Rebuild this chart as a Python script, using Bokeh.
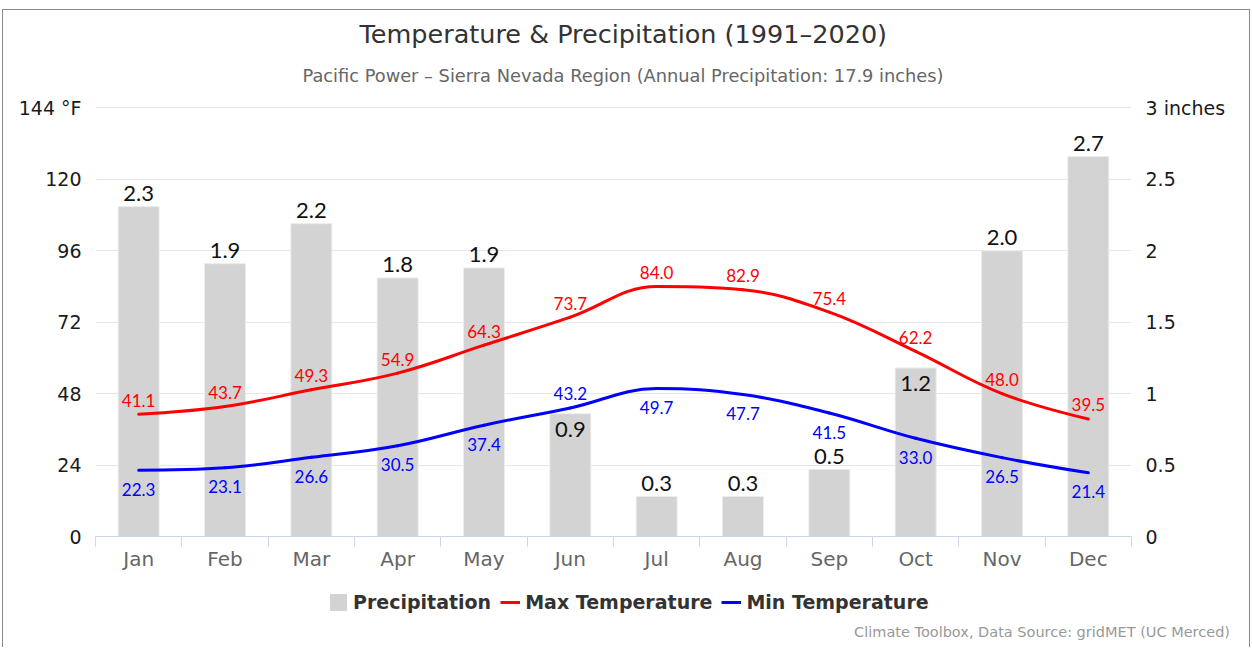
from bokeh.plotting import figure
from bokeh.layouts import column
from bokeh.models import (Range1d, LinearAxis, FixedTicker, Legend, LegendItem, Title, Grid,
                          Div, ColumnDataSource)
from bokeh.core.properties import value
from bokeh.embed import file_html
from bokeh.resources import INLINE

# ---------------- data ----------------
months = ["Jan", "Feb", "Mar", "Apr", "May", "Jun", "Jul", "Aug", "Sep", "Oct", "Nov", "Dec"]
precip = [2.31, 1.91, 2.19, 1.81, 1.88, 0.86, 0.28, 0.28, 0.47, 1.18, 2.00, 2.66]
max_temp = [41.1, 43.7, 49.3, 54.9, 64.3, 73.7, 84.0, 82.9, 75.4, 62.2, 48.0, 39.5]
min_temp = [22.3, 23.1, 26.6, 30.5, 37.4, 43.2, 49.7, 47.7, 41.5, 33.0, 26.5, 21.4]
temp_ticks = [0, 24, 48, 72, 96, 120, 144]
precip_ticks = [0, 0.5, 1, 1.5, 2, 2.5, 3]
series_names = ["Precipitation", "Max Temperature", "Min Temperature"]
title_text = "Temperature & Precipitation (1991\u20132020)"
subtitle_text = "Pacific Power \u2013 Sierra Nevada Region (Annual Precipitation: 17.9 inches)"
credit_text = "Climate Toolbox, Data Source: gridMET (UC Merced)"

# label placement (style)
bar_label_place = ["above"] * 5 + ["inside"] + ["above"] * 3 + ["inside"] + ["above"] * 2
min_label_place = ["below"] * 5 + ["above"] + ["below"] * 6

FONT = "DejaVu Sans"
LABEL_FONT = "Lato"
BAR_COLOR = "#d3d3d3"
MAX_COLOR = "#ff0000"
MIN_COLOR = "#0000ff"

xs = list(range(1, len(months) + 1))
T_END = 144.5
P_END = 3 * T_END / 144
W = 1246

p = figure(width=W, height=570, output_backend="svg", toolbar_location=None,
           x_range=Range1d(0.5, 12.5), y_range=Range1d(0, T_END),
           min_border_left=92, min_border_right=118, min_border_top=96, min_border_bottom=44,
           x_axis_type=None, y_axis_type=None, title_location=None)
p.outline_line_color = None
p.background_fill_color = "white"
p.border_fill_color = "white"
p.extra_y_ranges = {"precip": Range1d(0, P_END)}

# axes
xaxis = LinearAxis(ticker=FixedTicker(ticks=xs, minor_ticks=[x - 0.5 for x in xs] + [12.5]))
xaxis.major_label_overrides = {x: m for x, m in zip(xs, months)}
xaxis.major_tick_line_color = None
xaxis.major_tick_out = 0
xaxis.major_tick_in = 0
xaxis.minor_tick_line_color = "#ccd6eb"
xaxis.minor_tick_out = 10
xaxis.minor_tick_in = 0
xaxis.axis_line_color = "#ccd6eb"
xaxis.major_label_text_font = FONT
xaxis.major_label_text_font_size = "20px"
xaxis.major_label_text_color = "#666666"
xaxis.major_label_standoff = 0
p.add_layout(xaxis, "below")

yaxis = LinearAxis(ticker=FixedTicker(ticks=temp_ticks))
yaxis.major_label_overrides = {temp_ticks[-1]: f"{temp_ticks[-1]} \u00b0F"}
yaxis.axis_line_color = None
yaxis.major_tick_line_color = None
yaxis.minor_tick_line_color = None
yaxis.major_tick_out = 0
yaxis.major_tick_in = 0
yaxis.major_label_standoff = 14
yaxis.major_label_text_font = FONT
yaxis.major_label_text_font_size = "19px"
yaxis.major_label_text_color = "#1a1a1a"
p.add_layout(yaxis, "left")

raxis = LinearAxis(y_range_name="precip", ticker=FixedTicker(ticks=precip_ticks))
ov = {t: f"{t:g}" for t in precip_ticks}
ov[precip_ticks[-1]] = f"{precip_ticks[-1]:g} inches"
raxis.major_label_overrides = ov
raxis.axis_line_color = None
raxis.major_tick_line_color = None
raxis.minor_tick_line_color = None
raxis.major_tick_out = 0
raxis.major_tick_in = 0
raxis.major_label_standoff = 14
raxis.major_label_text_font = FONT
raxis.major_label_text_font_size = "19px"
raxis.major_label_text_color = "#1a1a1a"
p.add_layout(raxis, "right")

p.add_layout(Grid(dimension=1, ticker=FixedTicker(ticks=temp_ticks), grid_line_color="#e6e6e6",
                  grid_line_width=1))

# bars
bar_src = ColumnDataSource(dict(
    x=xs, top=precip,
    label=[f"{v:.1f}" for v in precip],
    yoff=[-13 if pl == "above" else 16 for pl in bar_label_place],
))
p.vbar(x="x", top="top", width=0.475, source=bar_src, y_range_name="precip",
       fill_color=BAR_COLOR, line_color="#ececec", line_width=1)
p.text(x="x", y="top", text="label", y_offset="yoff", source=bar_src, y_range_name="precip",
       text_align="center", text_baseline="middle", text_font=value(LABEL_FONT),
       text_font_size="22px", text_color="#111111")


# Highcharts-style spline through data points
def spline(xv, yv, smoothing=1.5):
    n = len(xv)
    denom = smoothing + 1
    left = [None] * n
    right = [None] * n
    for i in range(n):
        px, py = xv[i], yv[i]
        if 0 < i < n - 1:
            lx, ly = xv[i - 1], yv[i - 1]
            nx, ny = xv[i + 1], yv[i + 1]
            lcx = (smoothing * px + lx) / denom
            lcy = (smoothing * py + ly) / denom
            rcx = (smoothing * px + nx) / denom
            rcy = (smoothing * py + ny) / denom
            if rcx != lcx:
                corr = ((rcy - lcy) * (rcx - px)) / (rcx - lcx) + py - rcy
                lcy += corr
                rcy += corr
            if lcy > ly and lcy > py:
                lcy = max(ly, py)
                rcy = 2 * py - lcy
            elif lcy < ly and lcy < py:
                lcy = min(ly, py)
                rcy = 2 * py - lcy
            if rcy > ny and rcy > py:
                rcy = max(py, ny)
                lcy = 2 * py - rcy
            elif rcy < ny and rcy < py:
                rcy = min(py, ny)
                lcy = 2 * py - rcy
            left[i] = (lcx, lcy)
            right[i] = (rcx, rcy)
        else:
            left[i] = right[i] = (px, py)
    d = dict(x0=[], y0=[], x1=[], y1=[], cx0=[], cy0=[], cx1=[], cy1=[])
    for i in range(1, n):
        d["x0"].append(xv[i - 1]); d["y0"].append(yv[i - 1])
        d["x1"].append(xv[i]); d["y1"].append(yv[i])
        d["cx0"].append(right[i - 1][0]); d["cy0"].append(right[i - 1][1])
        d["cx1"].append(left[i][0]); d["cy1"].append(left[i][1])
    return d


p.bezier(source=ColumnDataSource(spline(xs, max_temp)), x0="x0", y0="y0", x1="x1", y1="y1",
         cx0="cx0", cy0="cy0", cx1="cx1", cy1="cy1", line_color=MAX_COLOR, line_width=3,
         line_cap="round")
p.bezier(source=ColumnDataSource(spline(xs, min_temp)), x0="x0", y0="y0", x1="x1", y1="y1",
         cx0="cx0", cy0="cy0", cx1="cx1", cy1="cy1", line_color=MIN_COLOR, line_width=3,
         line_cap="round")

max_src = ColumnDataSource(dict(x=xs, y=max_temp, label=[f"{v:.1f}" for v in max_temp],
                                yoff=[-14] * len(xs)))
min_src = ColumnDataSource(dict(x=xs, y=min_temp, label=[f"{v:.1f}" for v in min_temp],
                                yoff=[19 if pl == "below" else -14 for pl in min_label_place]))
p.text(x="x", y="y", text="label", y_offset="yoff", source=max_src, text_align="center",
       text_baseline="middle", text_font=value(LABEL_FONT), text_font_size="17px",
       text_color=MAX_COLOR)
p.text(x="x", y="y", text="label", y_offset="yoff", source=min_src, text_align="center",
       text_baseline="middle", text_font=value(LABEL_FONT), text_font_size="17px",
       text_color=MIN_COLOR)

# titles (index 0 nearest the plot)
p.add_layout(Title(text=subtitle_text, align="left", offset=207, standoff=41,
                   text_font=FONT, text_font_size="17.8px", text_font_style="normal",
                   text_color="#666666"), "above")
p.add_layout(Title(text=title_text, align="left", offset=264, standoff=-12,
                   text_font=FONT, text_font_size="25.5px", text_font_style="normal",
                   text_color="#333333"), "above")

# ---------- legend strip (second figure; its frame is aligned with the chart's) ----------
H2 = 37
q = figure(width=W, height=H2, output_backend="svg", toolbar_location=None,
           x_range=Range1d(0, 100), y_range=Range1d(0, 100), min_border=0,
           x_axis_type=None, y_axis_type=None, title_location=None)
q.outline_line_color = None
q.background_fill_color = "white"
q.border_fill_color = "white"
q.xgrid.visible = False
q.ygrid.visible = False

leg_bar = q.vbar(x=[-100], top=[0], width=1, fill_color=BAR_COLOR, line_color=BAR_COLOR)
leg_max = q.line(x=[-100, -99], y=[0, 0], line_color=MAX_COLOR, line_width=3)
leg_min = q.line(x=[-100, -99], y=[0, 0], line_color=MIN_COLOR, line_width=3)
legend = Legend(items=[LegendItem(label=series_names[0], renderers=[leg_bar]),
                       LegendItem(label=series_names[1], renderers=[leg_max]),
                       LegendItem(label=series_names[2], renderers=[leg_min])],
                orientation="horizontal", location=(233, 4),
                glyph_width=20, glyph_height=20, label_standoff=5, spacing=9,
                padding=0, margin=0, border_line_color=None, background_fill_alpha=0,
                label_text_font=FONT, label_text_font_style="bold",
                label_text_font_size="19px", label_text_color="#333333")
q.add_layout(legend)

credits = Div(text=credit_text, width=1222, height=20,
              styles={"text-align": "right", "font-family": "DejaVu Sans", "font-size": "14.5px",
                      "color": "#999999", "line-height": "20px", "white-space": "nowrap"})

layout = column(p, q, credits, spacing=0)
layout.styles = {"margin-left": "2px", "margin-top": "9px",
                 "border-left": "1px solid #8a8a8a", "border-top": "1px solid #8a8a8a",
                 "border-right": "1px solid #8a8a8a"}

open("out.html", "w").write(file_html(layout, INLINE))
